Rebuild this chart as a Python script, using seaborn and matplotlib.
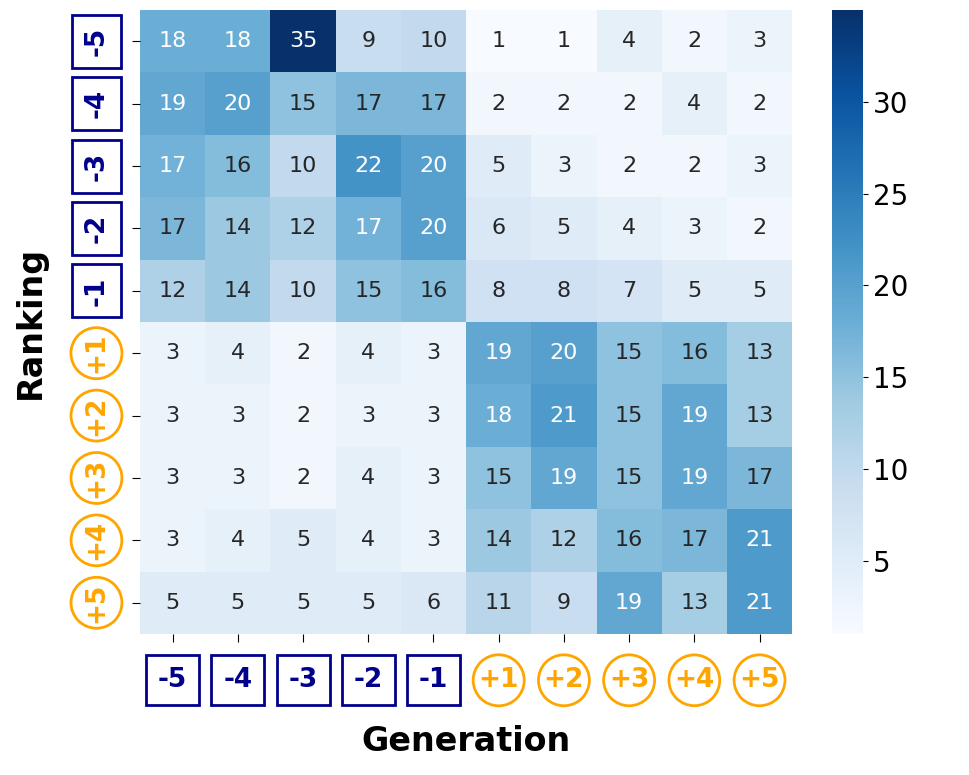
import seaborn as sns
import matplotlib.pyplot as plt
import numpy as np
import pandas as pd

gen_labels = ['-5', '-4', '-3', '-2', '-1', '+1', '+2', '+3', '+4', '+5']
rank_labels = ['-5', '-4', '-3', '-2', '-1', '+1', '+2', '+3', '+4', '+5']

# rows = ranking, cols = generation (shown rounded)
row_m5 = [18, 18, 35, 9, 10, 1, 1, 4, 2, 3]
row_m4 = [19, 20, 15, 16.6, 16.6, 2, 2, 2, 4, 2]
row_m3 = [17.4, 16, 10, 22, 20, 5, 3, 2, 2, 3]
row_m2 = [16.6, 14, 12, 17.4, 20, 6, 5, 4, 3, 2]
row_m1 = [12, 14, 10, 15, 16, 8, 8, 7, 5, 5]
row_p1 = [3, 4, 2, 4, 3, 19, 20, 15, 16, 13]
row_p2 = [3, 3, 2, 3, 3, 18, 21, 15, 19, 13]
row_p3 = [3, 3, 2, 4, 3, 15, 19, 15, 19, 16.6]
row_p4 = [3, 4, 5, 4, 3, 14, 12, 16, 16.6, 21]
row_p5 = [5, 5, 5, 5, 6, 11, 9, 19, 13, 21]
cbar_ticks = [5, 10, 15, 20, 25, 30]

data = pd.DataFrame([row_m5, row_m4, row_m3, row_m2, row_m1,
                     row_p1, row_p2, row_p3, row_p4, row_p5],
                    index=rank_labels, columns=gen_labels)

fig = plt.figure(figsize=(9.69, 7.75), dpi=100)
ax = fig.add_axes([0.1445, 0.182, 0.673, 0.805])
cax = fig.add_axes([0.8586, 0.182, 0.032, 0.805])

sns.heatmap(data, ax=ax, cbar_ax=cax, cmap='Blues', annot=True, fmt='.0f',
            annot_kws={'fontsize': 16})

cax.set_yticks(cbar_ticks)
cax.tick_params(labelsize=20)

navy = '#00008B'
orange = '#FFA500'

ax.set_xticklabels(gen_labels, rotation=0)
ax.set_yticklabels(rank_labels, rotation=90, va='center')
ax.tick_params(axis='x', pad=18, length=6)
ax.tick_params(axis='y', pad=16, length=6)

# negative offsets in navy squares, positive ones in orange circles
for lab in ax.get_xticklabels() + ax.get_yticklabels():
    lab.set_fontsize(19)
    lab.set_fontweight('bold')
    if lab.get_text().startswith('-'):
        lab.set_color(navy)
        lab.set_bbox(dict(boxstyle='square,pad=0.45', fc='white', ec=navy, lw=2))
    else:
        lab.set_color(orange)
        lab.set_bbox(dict(boxstyle='circle,pad=0.2', fc='white', ec=orange, lw=2))

ax.set_xlabel('Generation', fontsize=24, fontweight='bold', labelpad=23)
ax.set_ylabel('Ranking', fontsize=24, fontweight='bold', labelpad=26)

plt.savefig('out.png', dpi=100)
